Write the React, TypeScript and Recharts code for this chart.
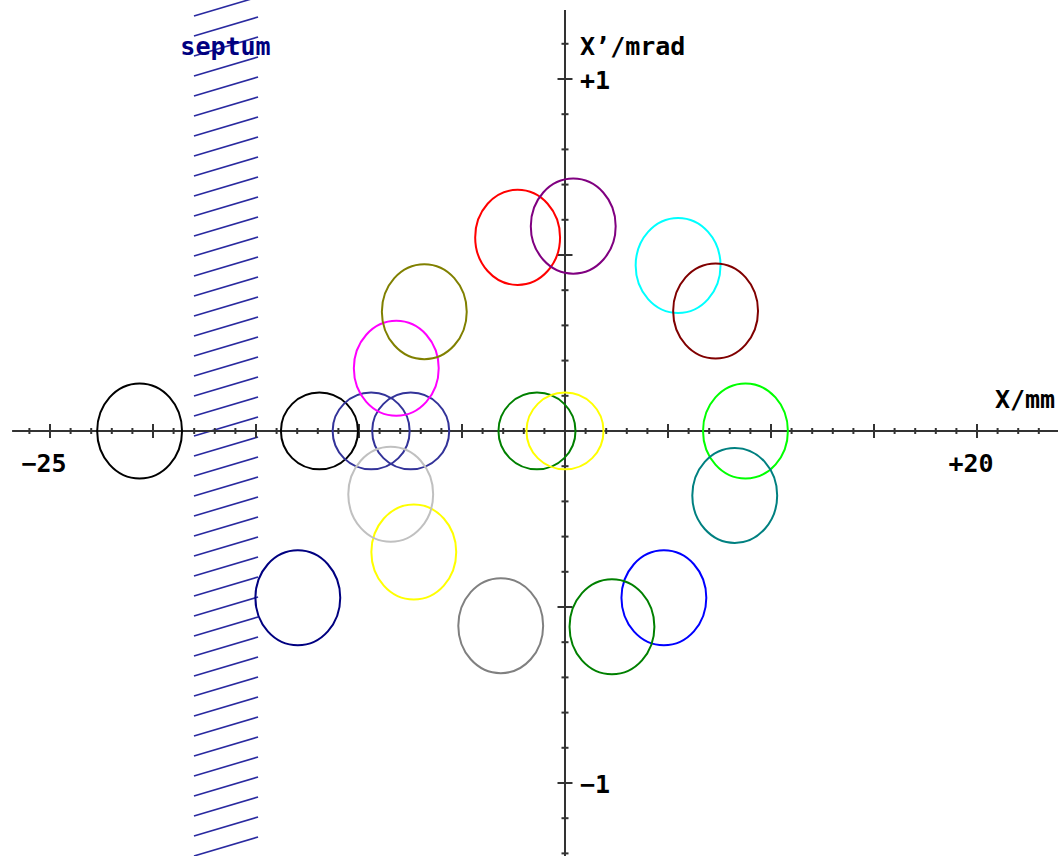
import { ScatterChart, Scatter, XAxis, YAxis, ReferenceLine, ReferenceArea } from 'recharts';

const W = 1058;
const H = 856;
// visible window: X in mm, X' in mrad (origin lands at 565,431)
const X_MIN = -27.427;
const X_MAX = 23.932;
const Y_MIN = -1.2074;
const Y_MAX = 1.2244;
const PX_MM = W / (X_MAX - X_MIN);
const PX_MRAD = H / (Y_MAX - Y_MIN);

const FONT = '"DejaVu Sans Mono", monospace';
const AXIS = '#333333';

// beam ellipses, one entry per turn
const beamColors = [
  '#000000', '#000000', '#333399', '#333399', '#008000', '#ffff00', '#00ff00',
  '#008080', '#0000ff', '#008000', '#808080', '#ffff00', '#c0c0c0', '#000080',
  '#ff00ff', '#808000', '#ff0000', '#800080', '#00ffff', '#800000',
];
const centerX = [
  -20.65, -11.92, -9.41, -7.49, -1.36, 0.0, 8.76,
  8.24, 4.8, 2.28, -3.12, -7.34, -8.46, -12.97,
  -8.19, -6.83, -2.3, 0.4, 5.49, 7.31,
];
const centerY = [
  0, 0, 0, 0, 0, 0, 0,
  -0.183, -0.474, -0.556, -0.553, -0.344, -0.18, -0.474,
  0.178, 0.339, 0.55, 0.582, 0.47, 0.341,
];
// semi-axes (mm, mrad)
const halfX = [
  2.06, 1.87, 1.87, 1.87, 1.87, 1.87, 2.06,
  2.06, 2.06, 2.06, 2.06, 2.06, 2.06, 2.06,
  2.06, 2.06, 2.06, 2.06, 2.06, 2.06,
];
const halfY = [
  0.135, 0.109, 0.109, 0.109, 0.109, 0.109, 0.135,
  0.135, 0.135, 0.135, 0.135, 0.135, 0.135, 0.135,
  0.135, 0.135, 0.135, 0.135, 0.135, 0.135,
];

// septum edges (mm)
const septumEdges = [-18.06, -14.9];

const xTickValues = [
  -26, -25, -24, -23, -22, -21, -20, -19, -18, -17, -16, -15, -14, -13, -12, -11, -10,
  -9, -8, -7, -6, -5, -4, -3, -2, -1, 1, 2, 3, 4, 5, 6, 7, 8, 9, 10,
  11, 12, 13, 14, 15, 16, 17, 18, 19, 20, 21, 22, 23,
];
const yTickValues = [
  -1.2, -1.1, -1.0, -0.9, -0.8, -0.7, -0.6, -0.5, -0.4, -0.3, -0.2, -0.1,
  0.1, 0.2, 0.3, 0.4, 0.5, 0.6, 0.7, 0.8, 0.9, 1.0, 1.1,
];
const xMajor = [-25, -20, -15, -10, -5, 5, 10, 15, 20];
const yMajor = [-1, -0.5, 0.5, 1];

const xTickLabels = [
  { x: -25, text: '\u221225' },
  { x: 20, text: '+20' },
];
const yTickLabels = [
  { y: 1, text: '+1' },
  { y: -1, text: '\u22121' },
];

const ellipses = beamColors.map((color, i) => ({
  x: centerX[i],
  y: centerY[i],
  rx: halfX[i],
  ry: halfY[i],
  color,
}));
const xTicks = xTickValues.map((x) => ({ x, y: 0, major: xMajor.includes(x) }));
const yTicks = yTickValues.map((y) => ({ x: 0, y, major: yMajor.some((m) => Math.abs(m - y) < 1e-6) }));
const xLabels = xTickLabels.map((l) => ({ x: l.x, y: 0, text: l.text }));
const yLabels = yTickLabels.map((l) => ({ x: 0, y: l.y, text: l.text }));
const titles = [
  { x: 20.87, y: 0.065, text: 'X/mm', color: '#000000', anchor: 'start' },
  { x: 0.73, y: 1.068, text: 'X\u2019/mrad', color: '#000000', anchor: 'start' },
  { x: (septumEdges[0] + septumEdges[1]) / 2, y: 1.068, text: 'septum', color: '#000080', anchor: 'middle' },
];

const textStyle = { fontFamily: FONT, fontWeight: 700, fontSize: 25 };

function BeamEllipse(props: any) {
  const { cx, cy, payload } = props;
  return (
    <ellipse
      cx={cx}
      cy={cy}
      rx={payload.rx * PX_MM}
      ry={payload.ry * PX_MRAD}
      fill="none"
      stroke={payload.color}
      strokeWidth={2}
    />
  );
}

function XTickMark(props: any) {
  const { cx, cy, payload } = props;
  const h = payload.major ? 7 : 3;
  return <line x1={cx} x2={cx} y1={cy - h} y2={cy + h} stroke={AXIS} strokeWidth={2} />;
}

function YTickMark(props: any) {
  const { cx, cy, payload } = props;
  const h = payload.major ? 7.5 : 3.5;
  return <line x1={cx - h} x2={cx + h} y1={cy} y2={cy} stroke={AXIS} strokeWidth={2} />;
}

function XLabel(props: any) {
  const { cx, cy, payload } = props;
  return (
    <text x={cx - 6} y={cy + 41} textAnchor="middle" fill="#000" style={textStyle}>
      {payload.text}
    </text>
  );
}

function YLabel(props: any) {
  const { cx, cy, payload } = props;
  return (
    <text x={cx + 15} y={cy + 10} textAnchor="start" fill="#000" style={textStyle}>
      {payload.text}
    </text>
  );
}

function Title(props: any) {
  const { cx, cy, payload } = props;
  return (
    <text x={cx} y={cy} textAnchor={payload.anchor} fill={payload.color} style={textStyle}>
      {payload.text}
    </text>
  );
}

// diagonal hatching for the septum band
function Hatch(props: any) {
  const { x, y, width, height } = props;
  const lines = [];
  for (let yy = 16; yy < y + height + 20; yy += 20) {
    lines.push(
      <line key={yy} x1={x + 1} y1={yy} x2={x + width} y2={yy - 19} stroke="#2a2aa0" strokeWidth={1.6} />
    );
  }
  return <g>{lines}</g>;
}

export default function App() {
  return (
    <div style={{ position: 'absolute', left: 0, top: 0, width: W, height: H, background: '#fff' }}>
      <ScatterChart width={W} height={H} margin={{ top: 0, right: 0, bottom: 0, left: 0 }}>
        <XAxis type="number" dataKey="x" domain={[X_MIN, X_MAX]} allowDataOverflow hide />
        <YAxis type="number" dataKey="y" domain={[Y_MIN, Y_MAX]} allowDataOverflow hide />
        <ReferenceArea
          x1={septumEdges[0]}
          x2={septumEdges[1]}
          y1={Y_MIN}
          y2={Y_MAX}
          ifOverflow="visible"
          shape={Hatch}
        />
        <ReferenceLine
          segment={[{ x: -26.84, y: 0 }, { x: X_MAX, y: 0 }]}
          stroke={AXIS}
          strokeWidth={2}
          ifOverflow="visible"
        />
        <ReferenceLine
          segment={[{ x: 0, y: 1.196 }, { x: 0, y: Y_MIN }]}
          stroke={AXIS}
          strokeWidth={2}
          ifOverflow="visible"
        />
        <Scatter data={xTicks} shape={XTickMark} isAnimationActive={false} />
        <Scatter data={yTicks} shape={YTickMark} isAnimationActive={false} />
        <Scatter data={ellipses} shape={BeamEllipse} isAnimationActive={false} />
        <Scatter data={xLabels} shape={XLabel} isAnimationActive={false} />
        <Scatter data={yLabels} shape={YLabel} isAnimationActive={false} />
        <Scatter data={titles} shape={Title} isAnimationActive={false} />
      </ScatterChart>
    </div>
  );
}
